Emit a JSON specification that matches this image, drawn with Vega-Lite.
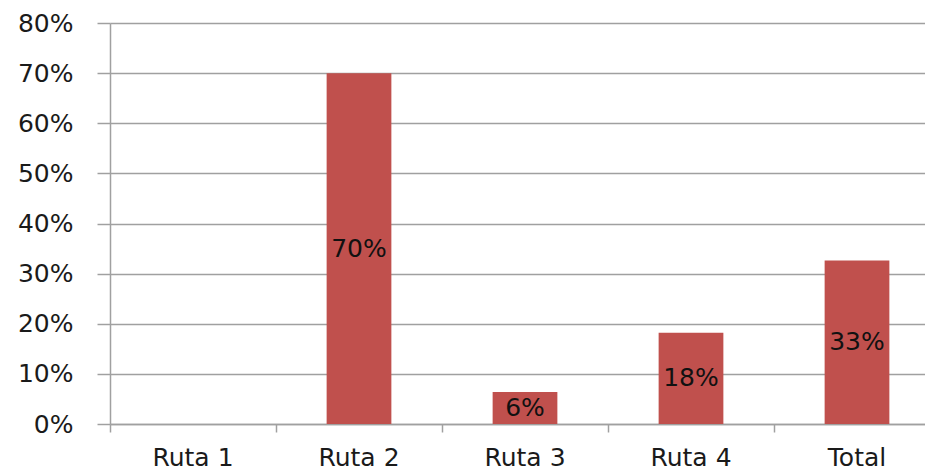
{
  "$schema": "https://vega.github.io/schema/vega-lite/v6.json",
  "autosize": {"type": "none"},
  "padding": {"left": 110, "top": 23, "right": 0, "bottom": 44},
  "width": 815,
  "height": 401,
  "background": "white",
  "config": {
    "view": {"stroke": null},
    "font": "DejaVu Sans"
  },
  "data": {
    "values": [
      {"ruta": "Ruta 1", "value": 0},
      {"ruta": "Ruta 2", "value": 0.70},
      {"ruta": "Ruta 3", "value": 0.064},
      {"ruta": "Ruta 4", "value": 0.182},
      {"ruta": "Total", "value": 0.326}
    ]
  },
  "resolve": {"scale": {"y": "independent"}},
  "layer": [
    {
      "mark": {"type": "bar", "color": "#C0504D", "width": {"band": 0.39}},
      "encoding": {
        "x": {
          "field": "ruta",
          "type": "nominal",
          "sort": null,
          "scale": {"range": [0, 830], "paddingInner": 0, "paddingOuter": 0},
          "axis": {
            "title": null,
            "bandPosition": 0,
            "labelOffset": 0,
            "labelAngle": 0,
            "labelFont": "DejaVu Sans",
            "labelFontSize": 25,
            "labelColor": "#1a1a1a",
            "labelPadding": 13,
            "labelBaseline": "top",
            "domainColor": "#A0A0A0",
            "domainWidth": 1.5,
            "tickColor": "#A0A0A0",
            "tickWidth": 1.5,
            "tickSize": 8,
            "grid": false
          }
        },
        "y": {
          "field": "value",
          "type": "quantitative",
          "scale": {"domain": [0, 0.8], "nice": false},
          "axis": {
            "title": null,
            "values": [0, 0.1, 0.2, 0.3, 0.4, 0.5, 0.6, 0.7, 0.8],
            "format": ".0%",
            "labelFont": "DejaVu Sans",
            "labelFontSize": 25,
            "labelColor": "#1a1a1a",
            "labelPadding": 24,
            "tickSize": 13,
            "tickColor": "#A0A0A0",
            "tickWidth": 1.5,
            "domainColor": "#A0A0A0",
            "domainWidth": 1.5,
            "grid": true,
            "gridColor": "#A0A0A0",
            "gridWidth": 1.5
          }
        }
      }
    },
    {
      "transform": [{"filter": "datum.value > 0"}],
      "mark": {
        "type": "text",
        "font": "DejaVu Sans",
        "fontSize": 25,
        "color": "#111111",
        "baseline": "middle",
        "align": "center"
      },
      "encoding": {
        "x": {"field": "ruta", "type": "nominal", "sort": null, "bandPosition": 0.5},
        "y": {
          "field": "value",
          "type": "quantitative",
          "scale": {"domain": [0, 1.6], "nice": false},
          "axis": null
        },
        "text": {"field": "value", "type": "quantitative", "format": ".0%"}
      }
    }
  ]
}
